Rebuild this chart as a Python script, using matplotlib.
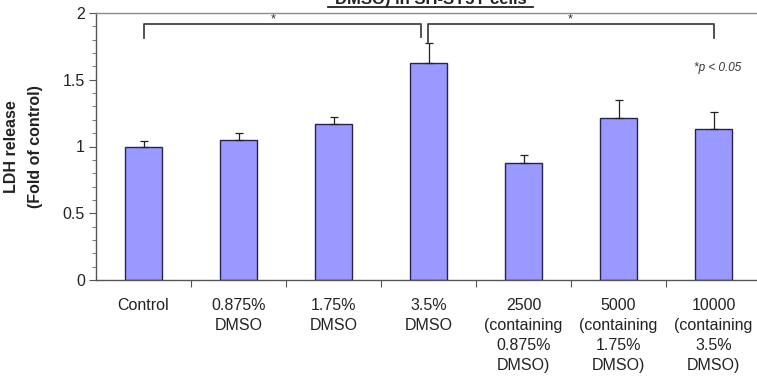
import matplotlib.pyplot as plt
from matplotlib.lines import Line2D
from matplotlib.ticker import MultipleLocator, FixedLocator, FormatStrFormatter

plt.rcParams["font.family"] = ["Liberation Sans", "DejaVu Sans"]

# LDH release per treatment, fold of control
groups = [
    "Control",
    "0.875%\nDMSO",
    "1.75%\nDMSO",
    "3.5%\nDMSO",
    "2500\n(containing\n0.875%\nDMSO)",
    "5000\n(containing\n1.75%\nDMSO)",
    "10000\n(containing\n3.5%\nDMSO)",
]
ldh_mean = [1.00, 1.05, 1.17, 1.625, 0.875, 1.21, 1.13]
ldh_err = [0.04, 0.05, 0.05, 0.15, 0.06, 0.14, 0.13]

fig = plt.figure(figsize=(7.57, 3.77), dpi=100)
ax = fig.add_axes([96 / 757, 97 / 377, 665 / 757, 267 / 377])

xpos = [i + 0.5 for i in range(len(groups))]
ax.bar(xpos, ldh_mean, width=0.39, color="#9999ff", edgecolor="#24244f",
       linewidth=1.0, zorder=2)
ax.errorbar(xpos, ldh_mean, yerr=[[0] * len(ldh_err), ldh_err], fmt="none",
            ecolor="#222222", elinewidth=0.9, capsize=3, capthick=0.9, zorder=3)

ax.set_xlim(0, 7)
ax.set_ylim(0, 2)

# y axis: labelled every 0.5, small ticks every 0.1
ax.yaxis.set_major_locator(MultipleLocator(0.5))
ax.yaxis.set_minor_locator(MultipleLocator(0.1))
ax.yaxis.set_major_formatter(FormatStrFormatter("%g"))
ax.tick_params(axis="y", which="major", direction="out", length=5, width=0.8,
               colors="#555555", labelcolor="#222222", labelsize=11.5, pad=3)
ax.tick_params(axis="y", which="minor", direction="out", length=3, width=0.7,
               colors="#777777")

# x axis: labels under the bars, tick marks between groups
ax.set_xticks(xpos)
ax.set_xticklabels(groups, fontsize=11.5, color="#222222", linespacing=1.42,
                   va="top")
ax.xaxis.set_minor_locator(FixedLocator(range(1, 8)))
ax.tick_params(axis="x", which="major", length=0, pad=13)
ax.tick_params(axis="x", which="minor", direction="out", length=5, width=0.8,
               colors="#555555")

for side in ["left", "bottom"]:
    ax.spines[side].set_color("#555555")
    ax.spines[side].set_linewidth(1.0)
ax.spines["top"].set_color("#8a8a8a")
ax.spines["top"].set_linewidth(1.0)
ax.spines["right"].set_visible(False)

ax.set_ylabel("LDH release\n(Fold of control)", fontsize=11.5, fontweight="bold",
              linespacing=1.75, color="#222222")
ax.yaxis.set_label_coords(-0.079, 0.5)

# significance brackets
bk = dict(color="#444444", linewidth=1.3, clip_on=False, zorder=4)
ax.plot([0.5, 0.5, 3.42, 3.42], [1.81, 1.92, 1.92, 1.82], **bk)
ax.plot([3.49, 3.49, 6.5, 6.5], [1.78, 1.92, 1.92, 1.81], **bk)
ax.text(1.86, 1.955, "*", ha="center", va="center", fontsize=9, color="#333333")
ax.text(4.99, 1.955, "*", ha="center", va="center", fontsize=9, color="#333333")
ax.text(6.54, 1.59, "*p < 0.05", ha="center", va="center", fontsize=8.5,
        style="italic", color="#333333")

# title line, mostly above the top edge of the figure
fig.text(431 / 757, 1 - 4 / 377, "DMSO) in SH-SY5Y cells", ha="center",
         va="baseline", fontsize=12, fontweight="bold", color="#222222")
fig.add_artist(Line2D([328 / 757, 533 / 757], [1 - 7 / 377, 1 - 7 / 377],
                      color="#222222", linewidth=1.3))

fig.savefig("out.png", dpi=100)
